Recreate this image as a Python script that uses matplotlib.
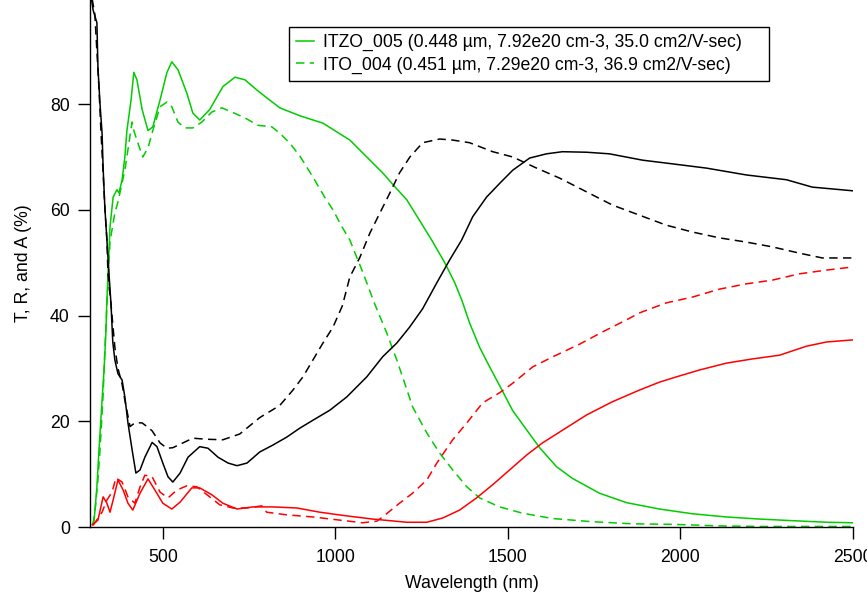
import matplotlib
matplotlib.use("Agg")
import matplotlib.pyplot as plt

plt.rcParams["font.family"] = ["Liberation Sans", "DejaVu Sans"]
plt.rcParams["font.size"] = 12.7

# ITZO_005 transmission / reflection / absorption (solid)
itzo_T_wl = [296, 301, 309, 315, 324, 330, 335, 338, 347, 356, 367, 373, 382, 390, 396, 408, 416, 425, 440, 457,
             471, 492, 512, 526, 544, 570, 587, 607, 636, 674, 709, 738, 772, 801, 839, 897, 964, 1042, 1091, 1137,
             1172, 1207, 1244, 1279, 1317, 1346, 1366, 1389, 1418, 1447, 1482, 1514, 1554, 1592, 1641, 1687, 1765,
             1844, 1939, 2035, 2133, 2229, 2324, 2423, 2500]
itzo_T = [0.5, 1.3, 7.6, 14.6, 24, 30, 36.7, 43, 56.8, 62.4, 63.8, 63.2, 65.7, 70, 75, 80.8, 86, 84.6, 79, 75,
          75.7, 80.8, 86, 88, 86.5, 82, 78.3, 77, 79, 83.3, 85.1, 84.6, 82.7, 81.2, 79.3, 77.8, 76.4, 73.2, 70, 67,
          64.4, 61.9, 58, 54.3, 50, 46.2, 43, 38.6, 34, 30.3, 26, 22, 18.4, 15, 11.4, 9.2, 6.4,
          4.6, 3.4, 2.5, 1.9, 1.5, 1.2, 0.9, 0.8]

itzo_R_wl = [296, 312, 327, 338, 347, 356, 370, 385, 399, 413, 434, 457, 477, 500, 526, 550, 584, 607, 642, 674,
             715, 761, 819, 888, 955, 1033, 1108, 1207, 1265, 1311, 1360, 1409, 1456, 1505, 1554, 1600, 1658, 1728,
             1803, 1881, 1939, 1988, 2055, 2133, 2209, 2287, 2365, 2423, 2500]
itzo_R = [0.4, 1.3, 5.7, 4.5, 2.8, 5.1, 8.9, 7, 4.5, 3.2, 6.4, 9.1, 7, 4.5, 3.4, 4.7, 7.4, 7.4, 6.1, 4.5,
          3.4, 3.8, 3.8, 3.6, 2.8, 2.1, 1.5, 0.9, 0.9, 1.7, 3.2, 5.5, 8, 10.8, 13.6, 15.9, 18.3, 21.2,
          23.7, 25.9, 27.4, 28.4, 29.7, 31, 31.8, 32.5, 34.2, 35, 35.4]

itzo_A_wl = [293, 298, 309, 312, 318, 324, 327, 332, 338, 344, 350, 355, 361, 370, 382, 390, 399, 411, 422, 434,
             448, 469, 483, 500, 515, 529, 550, 573, 607, 631, 660, 689, 715, 744, 781, 819, 859, 897, 935, 984,
             1033, 1091, 1137, 1178, 1215, 1253, 1294, 1331, 1366, 1398, 1438, 1476, 1514, 1563, 1612, 1658, 1728,
             1794, 1890, 1977, 2075, 2191, 2307, 2382, 2500]
itzo_A = [100, 97.8, 95.4, 87, 80, 74.5, 68, 60.5, 54.3, 48, 42, 35, 31.6, 29, 27.8, 24.6, 19.7, 14.6, 10.2, 10.8,
          13.2, 16, 15.2, 12.1, 9.5, 8.5, 10.2, 13.2, 15.2, 14.9, 13.2, 12.1, 11.6, 12.1, 14.2, 15.5, 17, 18.7, 20.2, 22.1,
          24.6, 28.4, 32.2, 34.8, 37.8, 41.3, 46.2, 50.5, 54.3, 58.7, 62.4, 65, 67.5, 69.8, 70.6, 71, 70.9,
          70.6, 69.4, 68.7, 67.9, 66.6, 65.7, 64.3, 63.6]

# ITO_004 (dashed)
ito_T_wl = [298, 305, 312, 318, 327, 332, 338, 347, 361, 370, 390, 411, 416, 428, 442, 457, 471, 492, 512, 526,
            544, 564, 587, 613, 642, 671, 700, 738, 775, 816, 839, 868, 897, 935, 969, 993, 1019, 1042, 1062, 1077,
            1091, 1114, 1149, 1178, 1201, 1224, 1265, 1302, 1340, 1381, 1418, 1476, 1543, 1630, 1745, 1861, 1977,
            2122, 2229, 2500]
ito_T = [0.5, 4, 9, 14.6, 25, 33.5, 42, 54, 59.4, 61.5, 67.5, 76.6, 75, 72.6, 70, 71.7, 75, 79.5, 80.4, 79.5,
         76.6, 75.5, 75.5, 76.6, 78.5, 79.3, 78.5, 77.4, 76, 75.7, 74.5, 72.6, 70.2, 66.2, 62.4, 60, 56.8, 54.3, 51, 48.6,
         46.2, 42.2, 36.7, 31.6, 27.2, 22.7, 17.8, 14, 10.8, 7.6, 5.5, 3.8, 2.6, 1.6, 1.0, 0.6, 0.5,
         0.2, 0.1, 0.1]

ito_R_wl = [298, 303, 324, 338, 353, 364, 382, 399, 419, 434, 448, 469, 492, 515, 541, 570, 599, 628, 665, 703,
            744, 787, 801, 859, 935, 1013, 1079, 1120, 1137, 1186, 1224, 1265, 1294, 1340, 1381, 1427, 1476, 1514,
            1572, 1630, 1708, 1774, 1844, 1881, 1959, 2035, 2113, 2191, 2266, 2345, 2423, 2500]
ito_R = [0.3, 0.8, 2.8, 5.1, 6.6, 9.3, 8.5, 5.7, 4.5, 7.6, 9.8, 9.5, 6.6, 5.5, 7, 7.8, 7.6, 6.1, 4.2, 3.6,
         3.6, 4, 2.8, 2.3, 1.9, 1.3, 0.8, 1.1, 1.9, 4.5, 6.4, 8.9, 12.1, 16.5, 19.7, 23.5, 25.4, 27.2,
         30.3, 32.2, 34.6, 36.9, 39.2, 40.5, 42.4, 43.5, 45, 46, 46.7, 47.9, 48.6, 49.2]

ito_A_wl = [295, 303, 309, 315, 321, 327, 332, 338, 341, 350, 361, 370, 382, 390, 405, 419, 440, 454, 469, 492,
            512, 529, 558, 587, 628, 674, 723, 781, 839, 877, 906, 935, 964, 993, 1020, 1042, 1071, 1100, 1129, 1158,
            1186, 1216, 1253, 1302, 1340, 1389, 1456, 1514, 1583, 1650, 1728, 1803, 1881, 1959, 2035, 2113, 2191,
            2266, 2345, 2411, 2500]
ito_A = [100, 97, 90, 83, 74.5, 67, 60.5, 54.3, 48, 42, 34, 30, 27, 24, 19, 19.7, 19.7, 19, 18.2, 15.9,
         14.9, 15, 15.9, 16.8, 16.6, 16.5, 17.6, 20.7, 23, 25.9, 28.4, 31.6, 34.8, 37.8, 41.8, 47.3, 51, 55.6, 59.4, 63.2,
         67, 70, 72.7, 73.4, 73.2, 72.7, 71, 70, 67.9, 66, 63.4, 60.9, 59, 57.1, 55.8, 54.7, 53.9,
         53, 51.8, 50.9, 50.9]

green = "#00cc00"
dash = (5.5, 3.5)

fig = plt.figure(figsize=(8.67, 5.97), dpi=100)
ax = fig.add_axes([90 / 867, 70 / 597, 763 / 867, 527 / 597])

ax.plot(itzo_T_wl, itzo_T, color=green, lw=1.1,
        label="ITZO_005 (0.448 µm, 7.92e20 cm-3, 35.0 cm2/V-sec)    ")
ax.plot(ito_T_wl, ito_T, color=green, lw=1.1, dashes=dash,
        label="ITO_004 (0.451 µm, 7.29e20 cm-3, 36.9 cm2/V-sec)")
ax.plot(itzo_A_wl, itzo_A, color="black", lw=1.1)
ax.plot(ito_A_wl, ito_A, color="black", lw=1.1, dashes=dash)
ax.plot(itzo_R_wl, itzo_R, color="red", lw=1.1)
ax.plot(ito_R_wl, ito_R, color="red", lw=1.1, dashes=dash)

ax.set_xlim(289, 2500)
ax.set_ylim(0, 99.7)
ax.set_xticks([500, 1000, 1500, 2000, 2500])
ax.set_yticks([0, 20, 40, 60, 80])
ax.spines["top"].set_visible(False)
ax.spines["right"].set_visible(False)
for s in ("left", "bottom"):
    ax.spines[s].set_linewidth(1.0)
ax.tick_params(direction="out", length=8.5, width=1.0, labelsize=12.7)
ax.tick_params(axis="x", pad=7)
ax.tick_params(axis="y", pad=6)

ax.set_xlabel("Wavelength (nm)", fontsize=12.7, labelpad=7)
ax.set_ylabel("T, R, and A (%)", fontsize=12.7, labelpad=13)

leg = ax.legend(loc="upper left", bbox_to_anchor=(0.2608, 0.9488), fontsize=12.7,
                frameon=True, fancybox=False, edgecolor="black", framealpha=1,
                handlelength=1.0, handletextpad=0.55, borderpad=0.4, labelspacing=0.3,
                borderaxespad=0)
leg.get_frame().set_linewidth(1.0)

fig.savefig("out.png", dpi=100)
